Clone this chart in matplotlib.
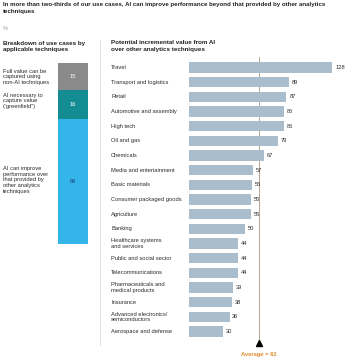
import matplotlib
matplotlib.use("Agg")
import matplotlib.pyplot as plt
from matplotlib.lines import Line2D

plt.rcParams['font.family'] = ['Liberation Sans', 'DejaVu Sans']

# ---- data ----
title = ("In more than two-thirds of our use cases, AI can improve performance beyond that provided by other analytics\n"
         "techniques")
unit_label = "%"
left_header = "Breakdown of use cases by\napplicable techniques"
right_header = "Potential incremental value from AI\nover other analytics techniques"

segment_labels = ["Full value can be\ncaptured using\nnon-AI techniques",
                  "AI necessary to\ncapture value\n(\u201cgreenfield\u201d)",
                  "AI can improve\nperformance over\nthat provided by\nother analytics\ntechniques"]
segment_values = [15, 16, 69]
segment_colors = ["#8a8a8a", "#138c92", "#33b5e9"]
segment_text_colors = ["white", "white", "#1d3c6e"]

industries = ["Travel", "Transport and logistics", "Retail", "Automotive and assembly", "High tech",
              "Oil and gas", "Chemicals", "Media and entertainment", "Basic materials",
              "Consumer packaged goods", "Agriculture", "Banking", "Healthcare systems\nand services",
              "Public and social sector", "Telecommunications", "Pharmaceuticals and\nmedical products",
              "Insurance", "Advanced electronics/\nsemiconductors", "Aerospace and defense"]
values = [128, 89, 87, 85, 85, 79, 67, 57, 56, 55, 55, 50, 44, 44, 44, 39, 38, 36, 30]
average = 62

# ---- figure ----
W, H = 356, 364
DPI = 100
fig = plt.figure(figsize=(W / DPI, H / DPI), dpi=DPI)
fig.patch.set_facecolor("white")

def fx(px):
    return px / W

def fy(py):
    return 1 - py / H

FS = 4.15
TXT = "#2b2b2b"

fig.text(fx(3), fy(2.0), title, fontsize=4.45, fontweight="bold", color="#222222",
         va="top", ha="left", linespacing=1.6)
fig.text(fx(3), fy(29), unit_label, fontsize=FS, color="#9a9a9a", va="center", ha="left")
fig.text(fx(3), fy(40.5), left_header, fontsize=4.5, fontweight="bold", color="#222222",
         va="top", ha="left", linespacing=1.5)
fig.text(fx(111), fy(40.5), right_header, fontsize=4.5, fontweight="bold", color="#222222",
         va="top", ha="left", linespacing=1.5)

# separator
fig.add_artist(Line2D([fx(99.5), fx(99.5)], [fy(40), fy(345)], color="#d9d9d9", lw=0.6))

# ---- left stacked bar ----
axl = fig.add_axes([fx(58.3), fy(244.3), fx(87.7) - fx(58.3), fy(63.3) - fy(244.3)])
bottom = 0
label_y_offsets = [0, -4, -2]
for v, c, tc, lab, off in zip(segment_values, segment_colors, segment_text_colors,
                              segment_labels, label_y_offsets):
    axl.bar(0, v, bottom=bottom, width=1.0, color=c, edgecolor="none")
    mid = bottom + v / 2
    axl.text(0, mid, str(v), color=tc, fontsize=FS, ha="center", va="center")
    pix = 63.3 + mid * 1.81 + off
    fig.text(fx(3), fy(pix), lab, fontsize=FS, color=TXT, ha="left", va="center", linespacing=1.15)
    bottom += v
axl.set_xlim(-0.5, 0.5)
axl.set_ylim(100, 0)
axl.axis("off")

# ---- right bar chart ----
n = len(industries)
top_c, bot_c = 67.5, 331.5
step = (bot_c - top_c) / (n - 1)
k = 0.75
ax_top = top_c - step * k
ax_bot = bot_c + step * k
px_per_unit = 1.117
ax_left = 189.3
ax_w = W - ax_left
ax = fig.add_axes([fx(ax_left), fy(ax_bot), ax_w / W, fy(ax_top) - fy(ax_bot)])
ys = list(range(n))
ax.barh(ys, values, height=0.7, color="#a9bdcc", edgecolor="none")
for y, v, lab in zip(ys, values, industries):
    ax.text(v + 2.5, y, str(v), fontsize=FS, color=TXT, ha="left", va="center")
    fig.text(fx(111), fy(top_c + step * y), lab, fontsize=FS, color=TXT,
             ha="left", va="center", linespacing=1.1)
ax.set_xlim(0, ax_w / px_per_unit)
ax.set_ylim(n - 1 + k, -k)
ax.axvline(average, color="#b7a68c", lw=0.7, zorder=0)
ax.plot([average], [n - 1 + k + 0.05], marker="^", color="black", markersize=5, clip_on=False,
        zorder=5)
ax.text(average, n - 1 + k + 0.85, f"Average = {average}", fontsize=FS, color="#e38b2c",
        ha="center", va="center", clip_on=False, fontweight="bold")
ax.axis("off")

fig.savefig("out.png", dpi=DPI, facecolor="white")
